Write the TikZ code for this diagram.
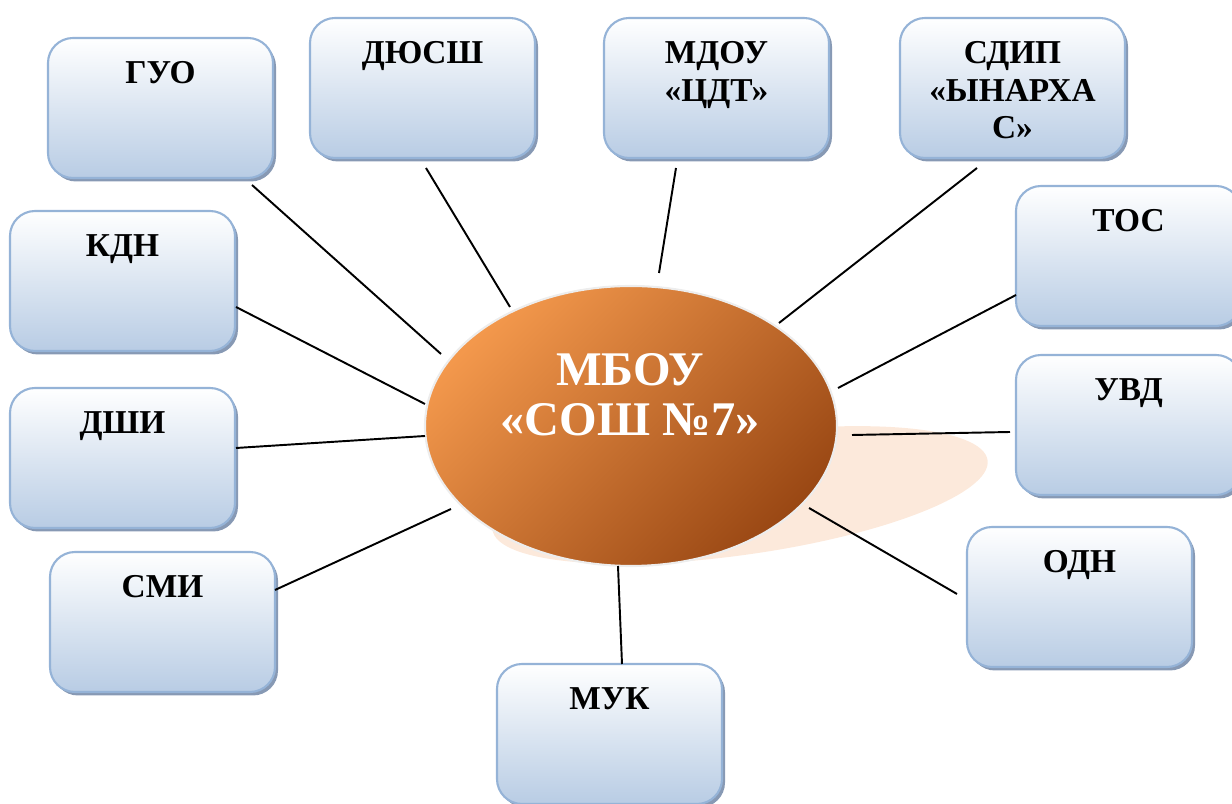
\documentclass[tikz,border=0pt]{standalone}
\usepackage{fontspec}
\setmainfont{Liberation Serif}
\usepackage{tikz}
\usetikzlibrary{shadows,shapes.geometric}

\definecolor{unitblue}{RGB}{184,204,228}
\definecolor{unitedge}{RGB}{149,179,215}
\definecolor{unitshade}{RGB}{122,142,172}
\definecolor{hublight}{RGB}{243,152,76}
\definecolor{hubdark}{RGB}{154,72,20}
\definecolor{peach}{RGB}{252,233,219}

\tikzset{
  unit/.style={rectangle, rounded corners=0.5cm, minimum width=4.5cm, minimum height=2.8cm,
    draw=unitedge, line width=1.2pt, top color=white, bottom color=unitblue,
    drop shadow={shadow xshift=0.06cm, shadow yshift=-0.07cm, fill=unitshade, opacity=0.9}},
  unittext/.style={anchor=north, yshift=-0.48cm, inner sep=0pt, align=center,
    font=\bfseries\fontsize{19}{21.5}\selectfont},
  hub/.style={ellipse, minimum width=8.24cm, minimum height=5.6cm, draw=black!7, line width=1.2pt,
    top color=hublight, bottom color=hubdark, shading angle=45},
  hubtext/.style={text=white, align=center, font=\bfseries\fontsize{27.5}{28.5}\selectfont},
  link/.style={draw=black, line width=1.1pt}
}

\begin{document}
\begin{tikzpicture}
    \useasboundingbox (0,0) rectangle (24.64,16.08);
    \clip (0,0) rectangle (24.64,16.08);

    % shadow under the school
    \fill[peach] (14.8,6.18) ellipse [x radius=5cm, y radius=1.2cm, rotate=8];

    \node[hub] (main) at (12.62,7.56) {};
    \node[hubtext] (mbou) at (12.60,8.18) {МБОУ\\«СОШ №7»};

    % partners
    \node[unit, label={[unittext]north:ГУО}] (guo) at (3.21,13.92) {};
    \node[unit, label={[unittext]north:ДЮСШ}] (dyussh) at (8.45,14.32) {};
    \node[unit, label={[unittext]north:{МДОУ\\«ЦДТ»}}] (mdou) at (14.33,14.32) {};
    \node[unit, label={[unittext]north:{СДИП\\«ЫНАРХА\\С»}}] (sdip) at (20.25,14.32) {};
    \node[unit, label={[unittext]north:ТОС}] (tos) at (22.57,10.96) {};
    \node[unit, label={[unittext]north:КДН}] (kdn) at (2.45,10.46) {};
    \node[unit, label={[unittext]north:УВД}] (uvd) at (22.57,7.58) {};
    \node[unit, label={[unittext]north:ДШИ}] (dshi) at (2.45,6.92) {};
    \node[unit, label={[unittext]north:СМИ}] (smi) at (3.25,3.64) {};
    \node[unit, label={[unittext]north:ОДН}] (odn) at (21.59,4.14) {};
    \node[unit, label={[unittext]north:МУК}] (muk) at (12.19,1.40) {};

    % links to the school
    \draw[link] ([shift={(1.83,-1.54)}]guo.center) -- ([shift={(-3.80,1.44)}]main.center);
    \draw[link] ([shift={(0.07,-1.60)}]dyussh.center) -- ([shift={(-2.42,2.38)}]main.center);
    \draw[link] ([shift={(-0.81,-1.60)}]mdou.center) -- ([shift={(0.56,3.06)}]main.center);
    \draw[link] ([shift={(-0.71,-1.60)}]sdip.center) -- ([shift={(2.96,2.06)}]main.center);
    \draw[link] ([shift={(-2.25,-0.78)}]tos.center) -- ([shift={(4.14,0.76)}]main.center);
    \draw[link] ([shift={(2.27,-0.52)}]kdn.center) -- ([shift={(-4.12,0.44)}]main.center);
    \draw[link] ([shift={(-2.37,-0.14)}]uvd.center) -- ([shift={(4.42,-0.18)}]main.center);
    \draw[link] ([shift={(2.27,0.20)}]dshi.center) -- ([shift={(-4.12,-0.20)}]main.center);
    \draw[link] ([shift={(2.25,0.64)}]smi.center) -- ([shift={(-3.60,-1.66)}]main.center);
    \draw[link] ([shift={(-2.45,0.06)}]odn.center) -- ([shift={(3.56,-1.64)}]main.center);
    \draw[link] ([shift={(0.25,1.40)}]muk.center) -- ([shift={(-0.26,-2.80)}]main.center);
\end{tikzpicture}
\end{document}
